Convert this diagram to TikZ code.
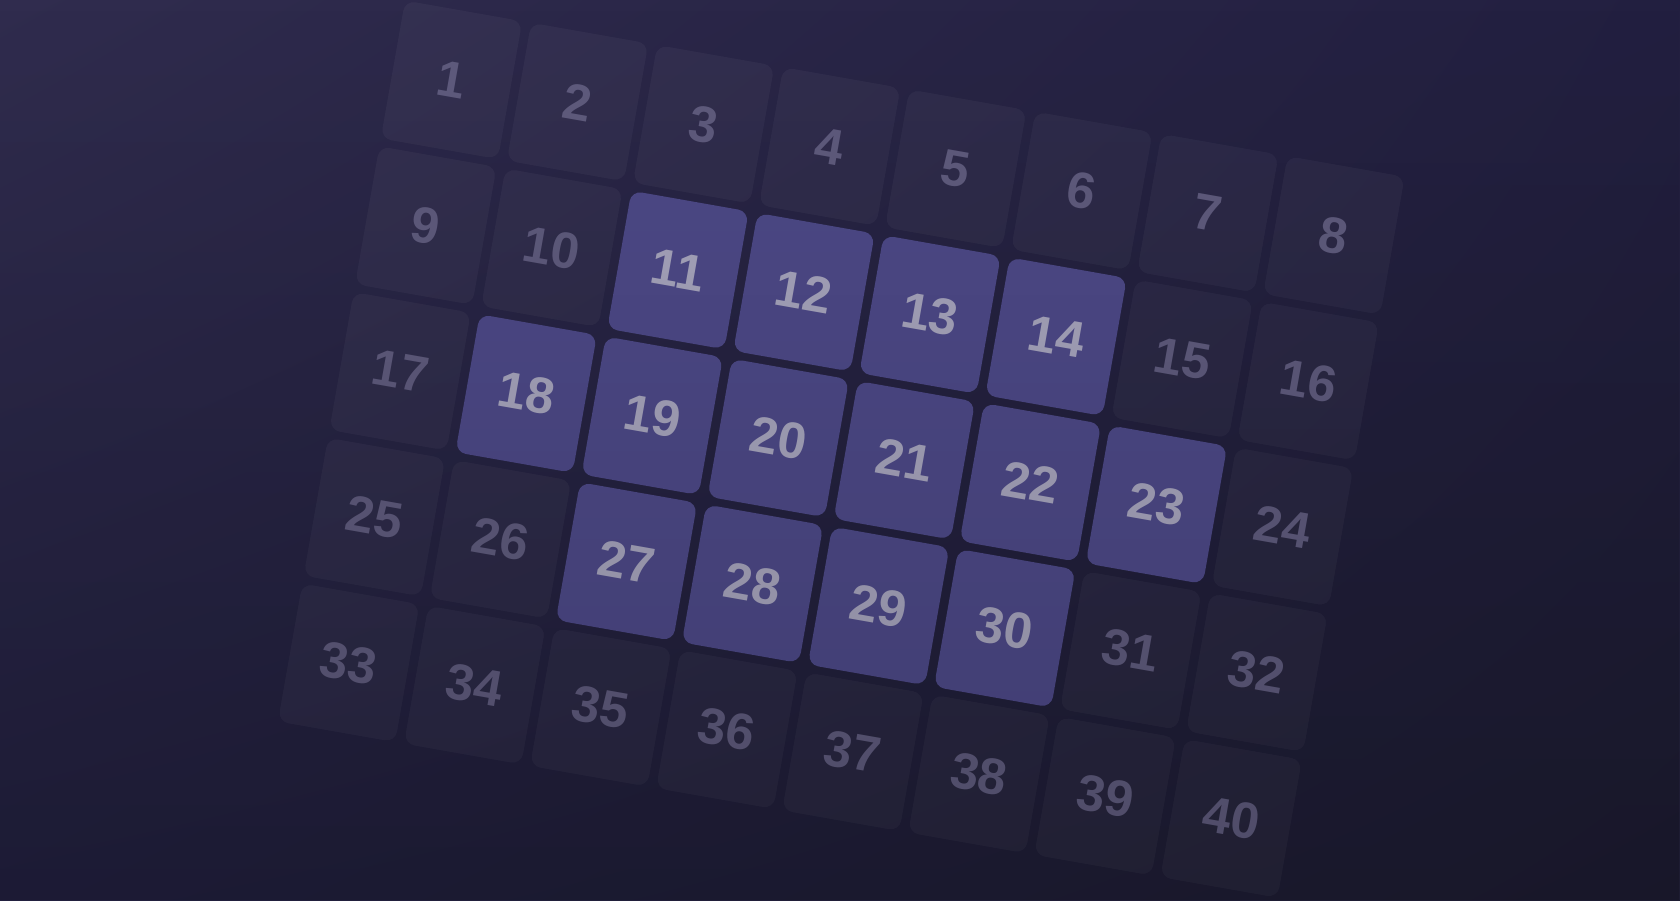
\documentclass[tikz,border=0pt]{standalone}
\usepackage{fontspec}
\newfontfamily\numfont{Liberation Sans}
\usetikzlibrary{fadings, shadings}
\definecolor{bgtl}{HTML}{302C4E}
\definecolor{bgtr}{HTML}{221F40}
\definecolor{bgbl}{HTML}{22203F}
\definecolor{bgbr}{HTML}{1D1C31}
\definecolor{hipurple}{HTML}{4D4987}
\definecolor{hinum}{HTML}{A6A4BC}
\definecolor{dimnum}{HTML}{5F5B7D}
\tikzset{
  tile/.style={
    rounded corners=3pt, inner sep=0pt,
    minimum width=1.19cm, minimum height=1.40cm,
    fill=white, fill opacity=0.04, text opacity=1,
    text=dimnum, rotate=-10,
    font=\numfont\bfseries\fontsize{14.5}{17}\selectfont
  },
  hitile/.style={tile, fill=hipurple, fill opacity=1, text=hinum},
}

\begin{document}
\begin{tikzpicture}
  \useasboundingbox (0,0) rectangle (16.8,9);
  \shade[upper left=bgtl, upper right=bgtr, lower left=bgbl, lower right=bgbr]
    (0,0) rectangle (16.8,9);

  % 5 x 8 grid, tilted
  \begin{scope}[shift={(4.515,8.202)}, rotate=-10]
    \foreach \r in {0,...,4} {
      \foreach \c in {0,...,7} {
        \pgfmathtruncatemacro\n{8*\r+\c+1}
        \pgfmathtruncatemacro\hi{(\r==1 && \c>1 && \c<6) || (\r==2 && \c>0 && \c<7) || (\r==3 && \c>1 && \c<6)}
        \ifnum\hi=1
          \node[hitile] (t\n) at (1.28*\c,-1.48*\r) {\n};
        \else
          \node[tile] (t\n) at (1.28*\c,-1.48*\r) {\n};
        \fi
      }
    }
  \end{scope}

  \fill[black, path fading=north, opacity=0.16] (0,0) rectangle (16.8,9);
\end{tikzpicture}
\end{document}
